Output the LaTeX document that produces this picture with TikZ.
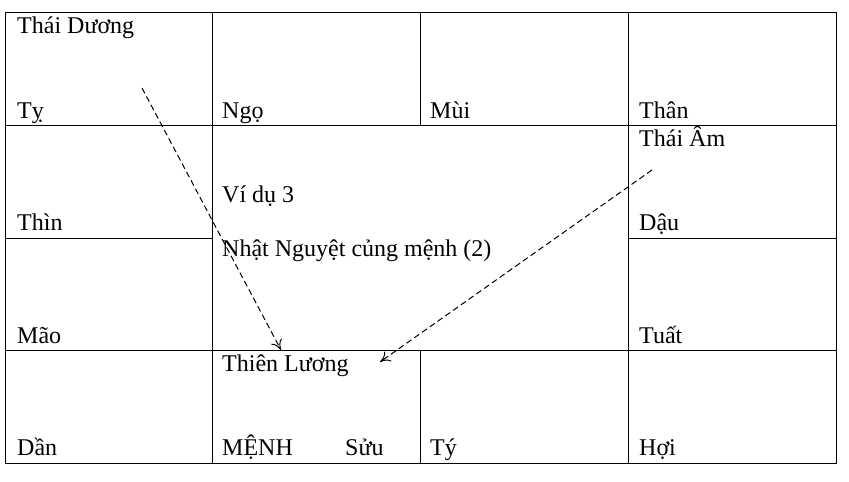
\documentclass[tikz,border=0pt]{standalone}
\usepackage{fontspec}
\setmainfont{Liberation Serif}
\usetikzlibrary{arrows.meta}
\begin{document}
\begin{tikzpicture}[x=1pt,y=-1pt,
  lbl/.style={anchor=base west,inner sep=0pt,font=\fontsize{24}{26}\selectfont},
  grid/.style={draw=black,line width=0.8pt},
  arr/.style={dash pattern=on 6pt off 3.5pt,line width=1pt,-{To[length=10pt,width=12pt]}}]
\useasboundingbox (0,0) rectangle (849,482);
\draw[grid] (5,12) rectangle (836,463);
\draw[grid] (5,125) -- (836,125);
\draw[grid] (5,350) -- (836,350);
\draw[grid] (5,238) -- (212,238) (628,238) -- (836,238);
\draw[grid] (212,12) -- (212,463) (628,12) -- (628,463);
\draw[grid] (420,12) -- (420,125) (420,350) -- (420,463);
\node[lbl] (td) at (17,33) {Thái Dương};
\node[lbl] (ty) at (17,118) {Tỵ};
\node[lbl] (ngo) at (222,118) {Ngọ};
\node[lbl] (mui) at (430,118) {Mùi};
\node[lbl] (than) at (639,118) {Thân};
\node[lbl] (ta) at (639,146) {Thái Âm};
\node[lbl] (thin) at (17,230) {Thìn};
\node[lbl] (vd) at (222,202) {Ví dụ 3};
\node[lbl] (nn) at (222,256) {Nhật Nguyệt củng mệnh (2)};
\node[lbl] (dau) at (639,230) {Dậu};
\node[lbl] (mao) at (17,343) {Mão};
\node[lbl] (tuat) at (639,343) {Tuất};
\node[lbl] (tl) at (222,371) {Thiên Lương};
\node[lbl] (dan) at (17,455) {Dần};
\node[lbl] (menh) at (222,455) {MỆNH};
\node[lbl] (suu) at (345,455) {Sửu};
\node[lbl] (ti) at (430,455) {Tý};
\node[lbl] (hoi) at (639,455) {Hợi};
\coordinate (a1) at (142,88);
\coordinate (b1) at (281,350);
\coordinate (a2) at (652,170);
\coordinate (b2) at (380,362);
\draw[arr] (a1) -- (b1);
\draw[arr] (a2) -- (b2);
\end{tikzpicture}
\end{document}
